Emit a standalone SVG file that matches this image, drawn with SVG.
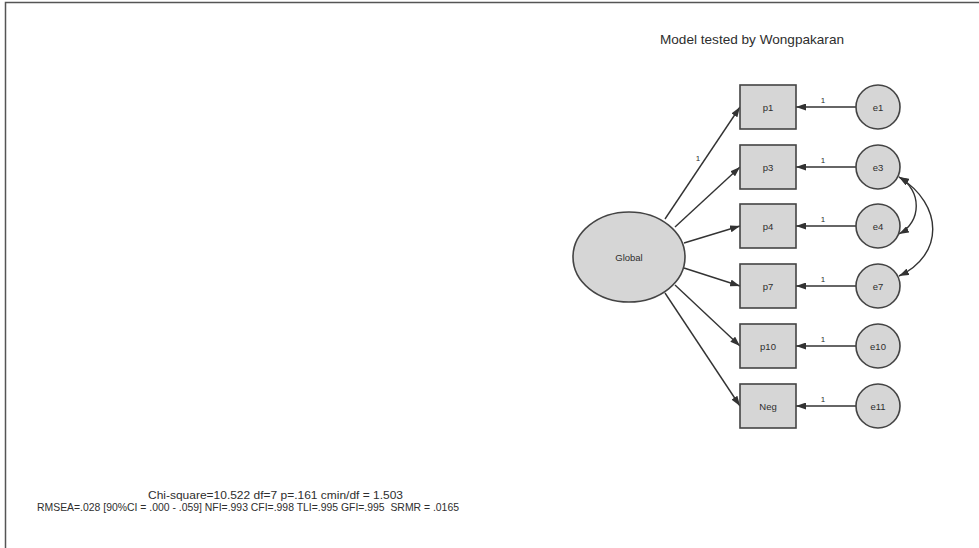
<svg xmlns="http://www.w3.org/2000/svg" width="979" height="548" viewBox="0 0 979 548">
<style>
text{font-family:"Liberation Sans",Arial,sans-serif;fill:#2e2e2e}
.node{fill:#d6d6d6;stroke:#444;stroke-width:1.6}
.lbl{font-size:9.5px;text-anchor:middle;dominant-baseline:central}
.one{font-size:8px;text-anchor:middle}
.c{fill:none;stroke:#333;stroke-width:1.4}
</style>
<defs>
<marker id="ah" viewBox="0 0 10 7" refX="10" refY="3.5" markerWidth="10" markerHeight="7" markerUnits="userSpaceOnUse" orient="auto-start-reverse">
<path d="M0,0 L10,3.5 L0,7 z" fill="#333"/>
</marker>
</defs>
<rect x="0" y="0" width="979" height="548" fill="#fff"/>
<path d="M5.5,548 V2.5 H979" fill="none" stroke="#555" stroke-width="1.5"/>
<text x="752" y="44" font-size="13" text-anchor="middle" textLength="184" lengthAdjust="spacingAndGlyphs">Model tested by Wongpakaran</text>

<g id="connectors">
<line class="c" x1="665" y1="219" x2="740" y2="107" marker-end="url(#ah)"/>
<line class="c" x1="675" y1="227" x2="740" y2="167" marker-end="url(#ah)"/>
<line class="c" x1="684" y1="243" x2="740" y2="226" marker-end="url(#ah)"/>
<line class="c" x1="684" y1="268" x2="740" y2="286" marker-end="url(#ah)"/>
<line class="c" x1="675" y1="285" x2="740" y2="346" marker-end="url(#ah)"/>
<line class="c" x1="665" y1="293" x2="740" y2="406" marker-end="url(#ah)"/>
<text class="one" x="698" y="161">1</text>
<line class="c" x1="856" y1="107" x2="796" y2="107" marker-end="url(#ah)"/>
<line class="c" x1="856" y1="167" x2="796" y2="167" marker-end="url(#ah)"/>
<line class="c" x1="856" y1="226" x2="796" y2="226" marker-end="url(#ah)"/>
<line class="c" x1="856" y1="286" x2="796" y2="286" marker-end="url(#ah)"/>
<line class="c" x1="856" y1="346" x2="796" y2="346" marker-end="url(#ah)"/>
<line class="c" x1="856" y1="406" x2="796" y2="406" marker-end="url(#ah)"/>
<text class="one" x="823" y="103">1</text>
<text class="one" x="823" y="163">1</text>
<text class="one" x="823" y="222">1</text>
<text class="one" x="823" y="282">1</text>
<text class="one" x="823" y="342">1</text>
<text class="one" x="823" y="402">1</text>
<path class="c" d="M899,177 C922,190 922,222 899,234" marker-start="url(#ah)" marker-end="url(#ah)"/>
<path class="c" d="M899,177 C944,205 944,255 899,276" marker-start="url(#ah)" marker-end="url(#ah)"/>
</g>

<g id="Global"><ellipse class="node" cx="629" cy="257" rx="56" ry="45"/><text class="lbl" x="629" y="257">Global</text></g>
<g id="p1"><rect class="node" x="740" y="85" width="56" height="44"/><text class="lbl" x="768" y="107">p1</text></g>
<g id="p3"><rect class="node" x="740" y="145" width="56" height="44"/><text class="lbl" x="768" y="167">p3</text></g>
<g id="p4"><rect class="node" x="740" y="204" width="56" height="44"/><text class="lbl" x="768" y="226">p4</text></g>
<g id="p7"><rect class="node" x="740" y="264" width="56" height="44"/><text class="lbl" x="768" y="286">p7</text></g>
<g id="p10"><rect class="node" x="740" y="324" width="56" height="44"/><text class="lbl" x="768" y="346">p10</text></g>
<g id="Neg"><rect class="node" x="740" y="384" width="56" height="44"/><text class="lbl" x="768" y="406">Neg</text></g>
<g id="e1"><circle class="node" cx="878" cy="107" r="22"/><text class="lbl" x="878" y="107">e1</text></g>
<g id="e3"><circle class="node" cx="878" cy="167" r="22"/><text class="lbl" x="878" y="167">e3</text></g>
<g id="e4"><circle class="node" cx="878" cy="226" r="22"/><text class="lbl" x="878" y="226">e4</text></g>
<g id="e7"><circle class="node" cx="878" cy="286" r="22"/><text class="lbl" x="878" y="286">e7</text></g>
<g id="e10"><circle class="node" cx="878" cy="346" r="22"/><text class="lbl" x="878" y="346">e10</text></g>
<g id="e11"><circle class="node" cx="878" cy="406" r="22"/><text class="lbl" x="878" y="406">e11</text></g>

<text x="148" y="499" font-size="11" textLength="255" lengthAdjust="spacingAndGlyphs">Chi-square=10.522 df=7 p=.161 cmin/df = 1.503</text>
<text x="37" y="511" font-size="11" textLength="422" lengthAdjust="spacingAndGlyphs" xml:space="preserve">RMSEA=.028 [90%CI = .000 - .059] NFI=.993 CFI=.998 TLI=.995 GFI=.995  SRMR = .0165</text>
</svg>
